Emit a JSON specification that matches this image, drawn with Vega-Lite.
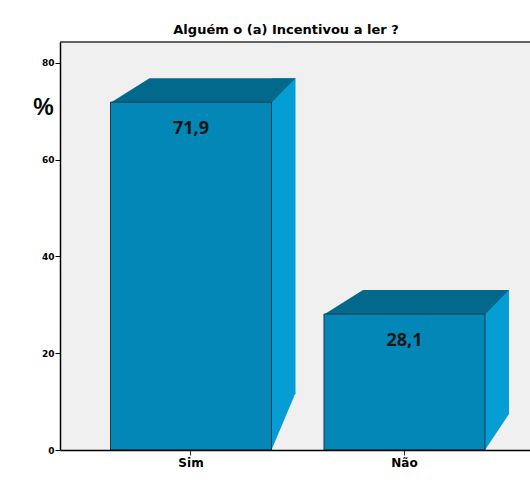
{
  "$schema": "https://vega.github.io/schema/vega-lite/v6.json",
  "width": 470,
  "height": 408,
  "autosize": {"type": "none"},
  "padding": {"left": 60, "top": 42, "right": 0, "bottom": 52},
  "background": "white",
  "title": {
    "text": "Alguém o (a) Incentivou a ler ?",
    "font": "DejaVu Sans",
    "fontSize": 13,
    "fontWeight": "bold",
    "color": "black",
    "anchor": "middle",
    "dx": -9,
    "offset": 5
  },
  "config": {
    "view": {"stroke": null, "fill": "#f0f0f0"},
    "locale": {"number": {"decimal": ",", "thousands": ".", "grouping": [3], "currency": ["", ""]}}
  },
  "data": {"values": [
    {"resposta": "Sim", "percentual": 71.9},
    {"resposta": "Não", "percentual": 28.1}
  ]},
  "layer": [
    {
      "mark": {"type": "bar", "width": 24, "xOffset": 92.5, "yOffset": -24, "y2Offset": -56, "color": "#049ed4"},
      "encoding": {
        "x": {"field": "resposta", "type": "nominal", "sort": null,
          "scale": {"paddingInner": 0.2459, "paddingOuter": 0.2237, "align": 0.5287},
          "axis": {"title": null, "labelAngle": 0, "labelFont": "DejaVu Sans", "labelFontSize": 12, "labelFontWeight": "bold", "labelColor": "black", "labelPadding": 2, "tickSize": 5, "tickColor": "#333", "domainColor": "black", "domainWidth": 1.5, "zindex": 1}},
        "y": {"field": "percentual", "type": "quantitative",
          "scale": {"domain": [0, 84.34], "nice": false, "zero": true},
          "axis": {"values": [0, 20, 40, 60, 80], "grid": false, "labelFont": "DejaVu Sans", "labelFontSize": 9, "labelFontWeight": "bold", "labelColor": "black", "labelPadding": 1, "tickSize": 5, "tickColor": "black", "domainColor": "black", "domainWidth": 1.5, "zindex": 1,
            "title": "%", "titleAngle": 0, "titleX": -17, "titleY": 72, "titleAlign": "center", "titleBaseline": "alphabetic", "titleFont": "Liberation Sans", "titleFontSize": 23, "titleFontWeight": "bold", "titleColor": "black"}},
        "y2": {"datum": 0}
      }
    },
    {
      "mark": {"type": "point", "filled": true, "size": 4, "opacity": 1, "strokeWidth": 0, "color": "#049ed4"},
      "encoding": {
        "x": {"field": "resposta", "type": "nominal", "sort": null},
        "y": {"datum": 0},
        "shape": {"field": "resposta", "type": "nominal", "legend": null,
          "scale": {"domain": ["Sim", "Não"], "range": ["M80.5,0L80.5,-57L104.5,-57Z", "M80.5,0L80.5,-57L104.5,-57L104.5,-36Z"]}}
      }
    },
    {
      "mark": {"type": "point", "filled": true, "size": 4, "opacity": 1, "strokeWidth": 0, "color": "#03698c", "shape": "M-80.5,0.5L80.5,0.5L104.5,-24L-41.5,-24Z"},
      "encoding": {
        "x": {"field": "resposta", "type": "nominal", "sort": null},
        "y": {"field": "percentual", "type": "quantitative"}
      }
    },
    {
      "mark": {"type": "bar", "color": "#0387b6", "stroke": "#173c4c", "strokeWidth": 1},
      "encoding": {
        "x": {"field": "resposta", "type": "nominal", "sort": null},
        "y": {"field": "percentual", "type": "quantitative"}
      }
    },
    {
      "mark": {"type": "text", "dy": 27, "font": "Open Sans", "fontSize": 18, "fontWeight": "bold", "color": "#161616", "baseline": "middle"},
      "encoding": {
        "x": {"field": "resposta", "type": "nominal", "sort": null},
        "y": {"field": "percentual", "type": "quantitative"},
        "text": {"field": "percentual", "type": "quantitative", "format": ".1f"}
      }
    },
    {
      "mark": {"type": "rule", "color": "#333", "strokeWidth": 1},
      "encoding": {"y": {"datum": 84.34}}
    }
  ]
}
